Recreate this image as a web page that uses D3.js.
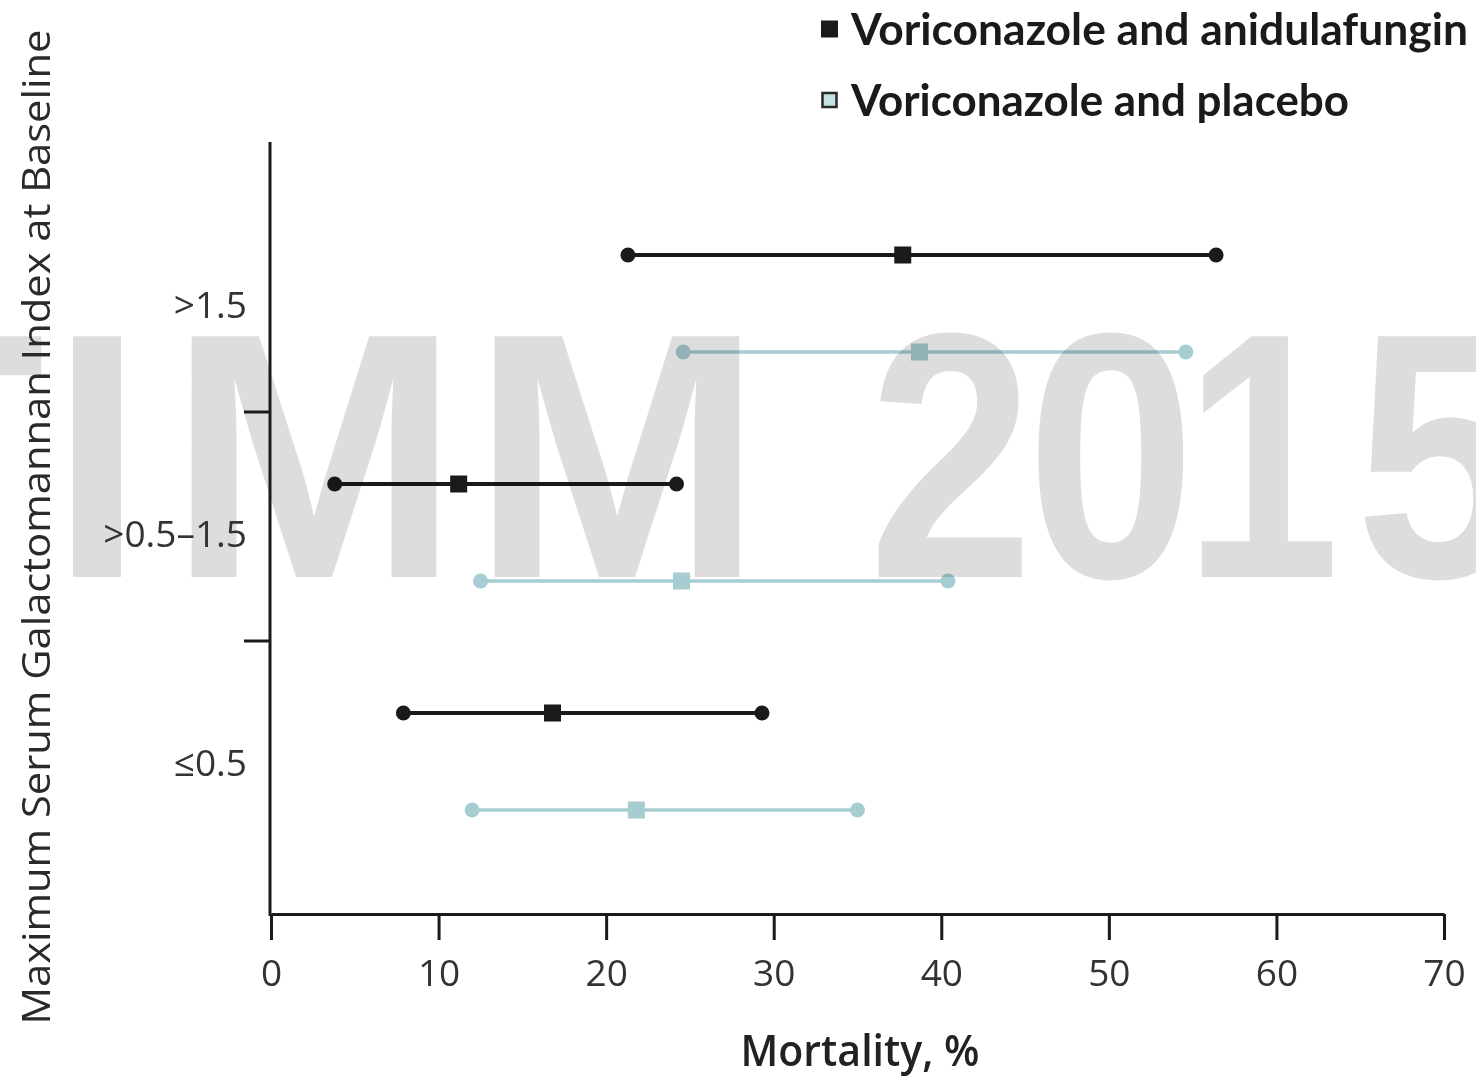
<!DOCTYPE html>
<html>
<head>
<meta charset="utf-8">
<script src="https://cdn.jsdelivr.net/npm/d3@7"></script>
<style>
  body { margin: 0; background: #fff; }
  svg { display: block; }
</style>
</head>
<body>
<div id="chart"></div>
<script>
// categories (top to bottom)
const groups = [">1.5", ">0.5\u20131.5", "\u22640.5"];
const seriesNames = ["Voriconazole and anidulafungin", "Voriconazole and placebo"];
// mortality %, point estimate and 95% CI
const anidLow  = [21.3, 3.8, 7.9];
const anidMid  = [37.7, 11.2, 16.8];
const anidHigh = [56.4, 24.2, 29.3];
const placLow  = [24.6, 12.5, 12.0];
const placMid  = [38.7, 24.5, 21.8];
const placHigh = [54.6, 40.4, 35.0];
const xTicks = [0, 10, 20, 30, 40, 50, 60, 70];
// background watermark
const watermark = ["T", "I", "M", "M", "2", "0", "1", "5"];
const watermarkX = [-62, 97, 314, 617, 951, 1111, 1262, 1440];
const watermarkSx = [1, 0.95, 1, 1, 0.85, 0.87, 0.8, 0.87];

const width = 1476, height = 1076;
const black = "#1a1a1a", teal = "#a6cdd1";

const svg = d3.select("#chart").append("svg")
  .attr("width", width)
  .attr("height", height);

// watermark behind everything
svg.append("g").selectAll("text")
  .data(watermark)
  .enter().append("text")
    .attr("transform", (d, i) => "translate(" + watermarkX[i] + ",577) scale(" + watermarkSx[i] + ",1)")
    .attr("text-anchor", "middle")
    .style("font-family", "'Liberation Sans', Arial, sans-serif")
    .style("font-weight", "bold")
    .style("font-size", "350px")
    .style("fill", "#dddddd")
    .text(d => d);

const x = d3.scaleLinear().domain([0, 70]).range([271, 1444]);
const yBand = d3.scaleBand().domain(groups).range([183, 870]).padding(0);
const rowOffset = [72, 169]; // black row, teal row inside each band

// y axis
svg.append("line")
  .attr("x1", 270).attr("x2", 270)
  .attr("y1", 142).attr("y2", 916)
  .attr("stroke", black).attr("stroke-width", 3);

svg.selectAll(".ytick")
  .data(groups.slice(1))
  .enter().append("line")
    .attr("class", "ytick")
    .attr("x1", 244).attr("x2", 270)
    .attr("y1", d => yBand(d)).attr("y2", d => yBand(d))
    .attr("stroke", black).attr("stroke-width", 3);

svg.selectAll(".ylab")
  .data(groups)
  .enter().append("text")
    .attr("class", "ylab")
    .attr("x", 247)
    .attr("y", d => yBand(d) + (rowOffset[0] + rowOffset[1]) / 2 + 2)
    .attr("dy", "0.35em")
    .attr("text-anchor", "end")
    .style("font-family", "'Open Sans', sans-serif")
    .style("font-size", "37px")
    .style("fill", "#333")
    .text(d => d);

// x axis
const xAxis = svg.append("g")
  .attr("transform", "translate(0,914)")
  .call(d3.axisBottom(x).tickValues(xTicks).tickSize(26).tickSizeOuter(0).tickPadding(20));
xAxis.select(".domain").attr("stroke", black).attr("stroke-width", 3);
xAxis.selectAll(".tick line").attr("stroke", black).attr("stroke-width", 3);
xAxis.selectAll(".tick text")
  .style("font-family", "'Open Sans', sans-serif")
  .style("font-size", "37px")
  .style("fill", "#333");

svg.append("text")
  .attr("x", 860).attr("y", 1066)
  .attr("text-anchor", "middle")
  .attr("textLength", 239).attr("lengthAdjust", "spacingAndGlyphs")
  .style("font-family", "'Open Sans', sans-serif")
  .style("font-weight", "600")
  .style("font-size", "44px")
  .style("fill", "#222")
  .text("Mortality, %");

svg.append("text")
  .attr("transform", "translate(50,527) rotate(-90)")
  .attr("text-anchor", "middle")
  .attr("textLength", 995).attr("lengthAdjust", "spacingAndGlyphs")
  .style("font-family", "'Open Sans', sans-serif")
  .style("font-size", "38px")
  .style("fill", "#2a2a2a")
  .text("Maximum Serum Galactomannan Index at Baseline");

// data rows
const series = [
  {name: seriesNames[0], low: anidLow, mid: anidMid, high: anidHigh, color: black, lw: 4},
  {name: seriesNames[1], low: placLow, mid: placMid, high: placHigh, color: teal, lw: 3.5}
];

series.forEach(function(s, si) {
  const g = svg.append("g").style("mix-blend-mode", "multiply");
  const rows = groups.map((grp, i) => ({y: yBand(grp) + rowOffset[si], lo: s.low[i], mid: s.mid[i], hi: s.high[i]}));
  g.selectAll(".ci").data(rows).enter().append("line")
    .attr("x1", d => x(d.lo)).attr("x2", d => x(d.hi))
    .attr("y1", d => d.y).attr("y2", d => d.y)
    .attr("stroke", s.color).attr("stroke-width", s.lw);
  g.selectAll(".lo").data(rows).enter().append("circle")
    .attr("cx", d => x(d.lo)).attr("cy", d => d.y).attr("r", 7.5).attr("fill", s.color);
  g.selectAll(".hi").data(rows).enter().append("circle")
    .attr("cx", d => x(d.hi)).attr("cy", d => d.y).attr("r", 7.5).attr("fill", s.color);
  g.selectAll(".mid").data(rows).enter().append("rect")
    .attr("x", d => x(d.mid) - 8.5).attr("y", d => d.y - 8.5)
    .attr("width", 17).attr("height", 17).attr("fill", s.color);
});

// legend
const legendY = [29, 100];
const legendW = [617, 498];
const leg = svg.append("g");
leg.selectAll("rect").data(seriesNames).enter().append("rect")
  .attr("x", (d, i) => i === 0 ? 821 : 822.5)
  .attr("y", (d, i) => legendY[i] - 8.5 + (i === 0 ? 0 : 1.5))
  .attr("width", (d, i) => i === 0 ? 17 : 14)
  .attr("height", (d, i) => i === 0 ? 17 : 14)
  .attr("fill", (d, i) => i === 0 ? black : "#c4e2e4")
  .attr("stroke", (d, i) => i === 0 ? "none" : "#2a2a2a")
  .attr("stroke-width", 2.5);
leg.selectAll("text").data(seriesNames).enter().append("text")
  .attr("x", 851)
  .attr("y", (d, i) => legendY[i] + 16)
  .attr("textLength", (d, i) => legendW[i]).attr("lengthAdjust", "spacingAndGlyphs")
  .style("font-family", "Lato, 'Open Sans', sans-serif")
  .style("font-weight", "bold")
  .style("font-size", "44px")
  .style("fill", "#1a1a1a")
  .text(d => d);
</script>
</body>
</html>
